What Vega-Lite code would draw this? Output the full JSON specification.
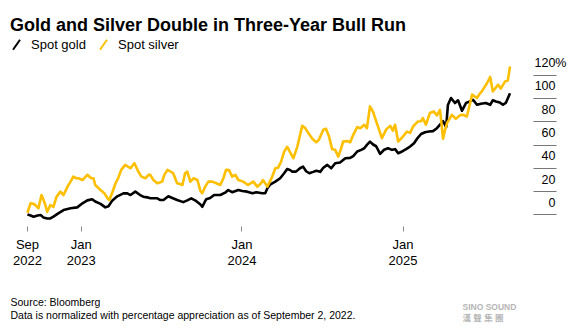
{
  "$schema": "https://vega.github.io/schema/vega-lite/v6.json",
  "width": 483,
  "height": 163,
  "autosize": {"type": "none"},
  "padding": {"left": 27, "top": 63, "right": 71, "bottom": 108},
  "background": "white",
  "config": {"view": {"stroke": null}, "font": "Liberation Sans"},
  "title": {
    "text": "Gold and Silver Double in Three-Year Bull Run",
    "anchor": "start",
    "frame": "group",
    "dx": -17,
    "dy": 21.5,
    "offset": 11,
    "fontSize": 18,
    "fontWeight": "bold",
    "font": "Liberation Sans",
    "color": "#000000",
    "baseline": "alphabetic"
  },
  "datasets": {
    "prices": [
      {"date": "2022-09-02", "series": "Spot gold", "pct": 0},
      {"date": "2022-09-09", "series": "Spot gold", "pct": -1},
      {"date": "2022-09-16", "series": "Spot gold", "pct": -2},
      {"date": "2022-09-25", "series": "Spot gold", "pct": -1},
      {"date": "2022-10-02", "series": "Spot gold", "pct": -0.6},
      {"date": "2022-10-08", "series": "Spot gold", "pct": -2.6},
      {"date": "2022-10-17", "series": "Spot gold", "pct": -3.5},
      {"date": "2022-10-24", "series": "Spot gold", "pct": -3.5},
      {"date": "2022-10-31", "series": "Spot gold", "pct": -2},
      {"date": "2022-11-11", "series": "Spot gold", "pct": 0.9},
      {"date": "2022-11-23", "series": "Spot gold", "pct": 3.7},
      {"date": "2022-12-09", "series": "Spot gold", "pct": 5.2},
      {"date": "2022-12-24", "series": "Spot gold", "pct": 6},
      {"date": "2023-01-05", "series": "Spot gold", "pct": 9.5},
      {"date": "2023-01-16", "series": "Spot gold", "pct": 12},
      {"date": "2023-01-27", "series": "Spot gold", "pct": 13},
      {"date": "2023-02-03", "series": "Spot gold", "pct": 11},
      {"date": "2023-02-15", "series": "Spot gold", "pct": 9},
      {"date": "2023-02-26", "series": "Spot gold", "pct": 6},
      {"date": "2023-03-05", "series": "Spot gold", "pct": 7},
      {"date": "2023-03-14", "series": "Spot gold", "pct": 12},
      {"date": "2023-03-25", "series": "Spot gold", "pct": 15.5},
      {"date": "2023-04-08", "series": "Spot gold", "pct": 18},
      {"date": "2023-04-17", "series": "Spot gold", "pct": 18},
      {"date": "2023-04-24", "series": "Spot gold", "pct": 16.6},
      {"date": "2023-05-05", "series": "Spot gold", "pct": 19.5},
      {"date": "2023-05-16", "series": "Spot gold", "pct": 16.6},
      {"date": "2023-05-23", "series": "Spot gold", "pct": 15.2},
      {"date": "2023-06-01", "series": "Spot gold", "pct": 14.6},
      {"date": "2023-06-08", "series": "Spot gold", "pct": 13.8},
      {"date": "2023-06-24", "series": "Spot gold", "pct": 13.8},
      {"date": "2023-07-01", "series": "Spot gold", "pct": 12.3},
      {"date": "2023-07-08", "series": "Spot gold", "pct": 12.3},
      {"date": "2023-07-19", "series": "Spot gold", "pct": 15.5},
      {"date": "2023-07-28", "series": "Spot gold", "pct": 14},
      {"date": "2023-08-08", "series": "Spot gold", "pct": 12.3},
      {"date": "2023-08-22", "series": "Spot gold", "pct": 10.5},
      {"date": "2023-08-31", "series": "Spot gold", "pct": 12},
      {"date": "2023-09-09", "series": "Spot gold", "pct": 13.8},
      {"date": "2023-09-20", "series": "Spot gold", "pct": 11.5},
      {"date": "2023-09-30", "series": "Spot gold", "pct": 8.5},
      {"date": "2023-10-04", "series": "Spot gold", "pct": 6.5},
      {"date": "2023-10-13", "series": "Spot gold", "pct": 13},
      {"date": "2023-10-22", "series": "Spot gold", "pct": 14},
      {"date": "2023-10-31", "series": "Spot gold", "pct": 16.6},
      {"date": "2023-11-14", "series": "Spot gold", "pct": 16.6},
      {"date": "2023-11-25", "series": "Spot gold", "pct": 18.6},
      {"date": "2023-12-02", "series": "Spot gold", "pct": 20.9},
      {"date": "2023-12-11", "series": "Spot gold", "pct": 19},
      {"date": "2023-12-25", "series": "Spot gold", "pct": 20.9},
      {"date": "2024-01-03", "series": "Spot gold", "pct": 20},
      {"date": "2024-01-14", "series": "Spot gold", "pct": 19.5},
      {"date": "2024-01-26", "series": "Spot gold", "pct": 18.1},
      {"date": "2024-02-04", "series": "Spot gold", "pct": 19},
      {"date": "2024-02-17", "series": "Spot gold", "pct": 18.1},
      {"date": "2024-02-24", "series": "Spot gold", "pct": 18.1},
      {"date": "2024-02-29", "series": "Spot gold", "pct": 22.4},
      {"date": "2024-03-06", "series": "Spot gold", "pct": 25.5},
      {"date": "2024-03-18", "series": "Spot gold", "pct": 28.1},
      {"date": "2024-03-29", "series": "Spot gold", "pct": 31},
      {"date": "2024-04-07", "series": "Spot gold", "pct": 35.3},
      {"date": "2024-04-14", "series": "Spot gold", "pct": 39},
      {"date": "2024-04-21", "series": "Spot gold", "pct": 38},
      {"date": "2024-04-25", "series": "Spot gold", "pct": 36.7},
      {"date": "2024-05-04", "series": "Spot gold", "pct": 36.7},
      {"date": "2024-05-13", "series": "Spot gold", "pct": 39.6},
      {"date": "2024-05-20", "series": "Spot gold", "pct": 41},
      {"date": "2024-05-27", "series": "Spot gold", "pct": 37},
      {"date": "2024-06-03", "series": "Spot gold", "pct": 35.3},
      {"date": "2024-06-12", "series": "Spot gold", "pct": 36.5},
      {"date": "2024-06-19", "series": "Spot gold", "pct": 37.5},
      {"date": "2024-06-28", "series": "Spot gold", "pct": 36.5},
      {"date": "2024-07-05", "series": "Spot gold", "pct": 40},
      {"date": "2024-07-14", "series": "Spot gold", "pct": 42.5},
      {"date": "2024-07-23", "series": "Spot gold", "pct": 39.6},
      {"date": "2024-08-01", "series": "Spot gold", "pct": 43.9},
      {"date": "2024-08-12", "series": "Spot gold", "pct": 44.5},
      {"date": "2024-08-24", "series": "Spot gold", "pct": 48.2},
      {"date": "2024-09-04", "series": "Spot gold", "pct": 48.5},
      {"date": "2024-09-11", "series": "Spot gold", "pct": 50},
      {"date": "2024-09-20", "series": "Spot gold", "pct": 54},
      {"date": "2024-09-29", "series": "Spot gold", "pct": 55.4},
      {"date": "2024-10-06", "series": "Spot gold", "pct": 56.8},
      {"date": "2024-10-12", "series": "Spot gold", "pct": 59.7},
      {"date": "2024-10-19", "series": "Spot gold", "pct": 62.5},
      {"date": "2024-10-26", "series": "Spot gold", "pct": 60},
      {"date": "2024-11-02", "series": "Spot gold", "pct": 58.5},
      {"date": "2024-11-11", "series": "Spot gold", "pct": 52},
      {"date": "2024-11-20", "series": "Spot gold", "pct": 55.5},
      {"date": "2024-11-29", "series": "Spot gold", "pct": 56.8},
      {"date": "2024-12-08", "series": "Spot gold", "pct": 55.4},
      {"date": "2024-12-15", "series": "Spot gold", "pct": 56},
      {"date": "2024-12-22", "series": "Spot gold", "pct": 52.5},
      {"date": "2024-12-31", "series": "Spot gold", "pct": 54},
      {"date": "2025-01-09", "series": "Spot gold", "pct": 56},
      {"date": "2025-01-18", "series": "Spot gold", "pct": 58.2},
      {"date": "2025-01-27", "series": "Spot gold", "pct": 61},
      {"date": "2025-02-03", "series": "Spot gold", "pct": 65},
      {"date": "2025-02-12", "series": "Spot gold", "pct": 69},
      {"date": "2025-02-21", "series": "Spot gold", "pct": 70.5},
      {"date": "2025-03-02", "series": "Spot gold", "pct": 71.1},
      {"date": "2025-03-11", "series": "Spot gold", "pct": 71.5},
      {"date": "2025-03-20", "series": "Spot gold", "pct": 74},
      {"date": "2025-03-27", "series": "Spot gold", "pct": 77},
      {"date": "2025-04-03", "series": "Spot gold", "pct": 80},
      {"date": "2025-04-10", "series": "Spot gold", "pct": 75},
      {"date": "2025-04-14", "series": "Spot gold", "pct": 94},
      {"date": "2025-04-21", "series": "Spot gold", "pct": 99.9},
      {"date": "2025-04-30", "series": "Spot gold", "pct": 95.6},
      {"date": "2025-05-07", "series": "Spot gold", "pct": 98},
      {"date": "2025-05-16", "series": "Spot gold", "pct": 89},
      {"date": "2025-05-25", "series": "Spot gold", "pct": 95.6},
      {"date": "2025-06-03", "series": "Spot gold", "pct": 97},
      {"date": "2025-06-10", "series": "Spot gold", "pct": 98.4},
      {"date": "2025-06-19", "series": "Spot gold", "pct": 94.1},
      {"date": "2025-06-28", "series": "Spot gold", "pct": 95},
      {"date": "2025-07-09", "series": "Spot gold", "pct": 95.6},
      {"date": "2025-07-19", "series": "Spot gold", "pct": 94.1},
      {"date": "2025-07-25", "series": "Spot gold", "pct": 98},
      {"date": "2025-08-01", "series": "Spot gold", "pct": 97},
      {"date": "2025-08-10", "series": "Spot gold", "pct": 96},
      {"date": "2025-08-17", "series": "Spot gold", "pct": 94.1},
      {"date": "2025-08-24", "series": "Spot gold", "pct": 96},
      {"date": "2025-09-02", "series": "Spot gold", "pct": 104},
      {"date": "2022-09-02", "series": "Spot silver", "pct": 1.4},
      {"date": "2022-09-09", "series": "Spot silver", "pct": 9.5},
      {"date": "2022-09-16", "series": "Spot silver", "pct": 9},
      {"date": "2022-09-20", "series": "Spot silver", "pct": 8},
      {"date": "2022-09-27", "series": "Spot silver", "pct": 5.2},
      {"date": "2022-10-04", "series": "Spot silver", "pct": 16.6},
      {"date": "2022-10-11", "series": "Spot silver", "pct": 10},
      {"date": "2022-10-17", "series": "Spot silver", "pct": 2.2},
      {"date": "2022-10-24", "series": "Spot silver", "pct": 8},
      {"date": "2022-10-31", "series": "Spot silver", "pct": 6.5},
      {"date": "2022-11-07", "series": "Spot silver", "pct": 15},
      {"date": "2022-11-16", "series": "Spot silver", "pct": 19.5},
      {"date": "2022-11-23", "series": "Spot silver", "pct": 16.6},
      {"date": "2022-12-02", "series": "Spot silver", "pct": 23.8},
      {"date": "2022-12-09", "series": "Spot silver", "pct": 28.1},
      {"date": "2022-12-15", "series": "Spot silver", "pct": 32.4},
      {"date": "2022-12-22", "series": "Spot silver", "pct": 31},
      {"date": "2022-12-27", "series": "Spot silver", "pct": 31},
      {"date": "2023-01-05", "series": "Spot silver", "pct": 29.5},
      {"date": "2023-01-16", "series": "Spot silver", "pct": 34},
      {"date": "2023-01-25", "series": "Spot silver", "pct": 31},
      {"date": "2023-01-30", "series": "Spot silver", "pct": 31},
      {"date": "2023-02-03", "series": "Spot silver", "pct": 25.2},
      {"date": "2023-02-15", "series": "Spot silver", "pct": 20.9},
      {"date": "2023-02-24", "series": "Spot silver", "pct": 18},
      {"date": "2023-03-03", "series": "Spot silver", "pct": 13.8},
      {"date": "2023-03-07", "series": "Spot silver", "pct": 12.3},
      {"date": "2023-03-14", "series": "Spot silver", "pct": 19},
      {"date": "2023-03-21", "series": "Spot silver", "pct": 26.7},
      {"date": "2023-03-27", "series": "Spot silver", "pct": 31},
      {"date": "2023-04-03", "series": "Spot silver", "pct": 38.2},
      {"date": "2023-04-12", "series": "Spot silver", "pct": 42.5},
      {"date": "2023-04-24", "series": "Spot silver", "pct": 39.6},
      {"date": "2023-05-03", "series": "Spot silver", "pct": 43.9},
      {"date": "2023-05-12", "series": "Spot silver", "pct": 36.7},
      {"date": "2023-05-19", "series": "Spot silver", "pct": 32.4},
      {"date": "2023-05-28", "series": "Spot silver", "pct": 31},
      {"date": "2023-06-04", "series": "Spot silver", "pct": 33.9},
      {"date": "2023-06-08", "series": "Spot silver", "pct": 33.9},
      {"date": "2023-06-15", "series": "Spot silver", "pct": 29.5},
      {"date": "2023-06-24", "series": "Spot silver", "pct": 26.7},
      {"date": "2023-07-05", "series": "Spot silver", "pct": 28.1},
      {"date": "2023-07-10", "series": "Spot silver", "pct": 33.9},
      {"date": "2023-07-17", "series": "Spot silver", "pct": 38.2},
      {"date": "2023-07-23", "series": "Spot silver", "pct": 37},
      {"date": "2023-07-30", "series": "Spot silver", "pct": 35.3},
      {"date": "2023-08-08", "series": "Spot silver", "pct": 26.7},
      {"date": "2023-08-15", "series": "Spot silver", "pct": 26},
      {"date": "2023-08-20", "series": "Spot silver", "pct": 25.2},
      {"date": "2023-08-26", "series": "Spot silver", "pct": 35.3},
      {"date": "2023-08-31", "series": "Spot silver", "pct": 36.7},
      {"date": "2023-09-07", "series": "Spot silver", "pct": 28.1},
      {"date": "2023-09-14", "series": "Spot silver", "pct": 31},
      {"date": "2023-09-23", "series": "Spot silver", "pct": 29.5},
      {"date": "2023-09-30", "series": "Spot silver", "pct": 20},
      {"date": "2023-10-04", "series": "Spot silver", "pct": 18.1},
      {"date": "2023-10-11", "series": "Spot silver", "pct": 24},
      {"date": "2023-10-18", "series": "Spot silver", "pct": 28.1},
      {"date": "2023-10-27", "series": "Spot silver", "pct": 28.1},
      {"date": "2023-11-05", "series": "Spot silver", "pct": 26.7},
      {"date": "2023-11-14", "series": "Spot silver", "pct": 25.2},
      {"date": "2023-11-21", "series": "Spot silver", "pct": 31},
      {"date": "2023-11-27", "series": "Spot silver", "pct": 38.2},
      {"date": "2023-12-04", "series": "Spot silver", "pct": 38},
      {"date": "2023-12-11", "series": "Spot silver", "pct": 32.4},
      {"date": "2023-12-18", "series": "Spot silver", "pct": 34},
      {"date": "2023-12-25", "series": "Spot silver", "pct": 29.5},
      {"date": "2024-01-05", "series": "Spot silver", "pct": 28.1},
      {"date": "2024-01-16", "series": "Spot silver", "pct": 25.2},
      {"date": "2024-01-28", "series": "Spot silver", "pct": 28.1},
      {"date": "2024-02-06", "series": "Spot silver", "pct": 23.8},
      {"date": "2024-02-13", "series": "Spot silver", "pct": 26},
      {"date": "2024-02-19", "series": "Spot silver", "pct": 29.5},
      {"date": "2024-02-29", "series": "Spot silver", "pct": 23.8},
      {"date": "2024-03-11", "series": "Spot silver", "pct": 32.4},
      {"date": "2024-03-18", "series": "Spot silver", "pct": 39.6},
      {"date": "2024-03-24", "series": "Spot silver", "pct": 40},
      {"date": "2024-03-31", "series": "Spot silver", "pct": 45},
      {"date": "2024-04-07", "series": "Spot silver", "pct": 53.9},
      {"date": "2024-04-14", "series": "Spot silver", "pct": 58},
      {"date": "2024-04-21", "series": "Spot silver", "pct": 53},
      {"date": "2024-04-28", "series": "Spot silver", "pct": 48.2},
      {"date": "2024-05-07", "series": "Spot silver", "pct": 58.2},
      {"date": "2024-05-13", "series": "Spot silver", "pct": 68},
      {"date": "2024-05-18", "series": "Spot silver", "pct": 76},
      {"date": "2024-05-25", "series": "Spot silver", "pct": 74.1},
      {"date": "2024-06-01", "series": "Spot silver", "pct": 69.8},
      {"date": "2024-06-10", "series": "Spot silver", "pct": 65},
      {"date": "2024-06-19", "series": "Spot silver", "pct": 62},
      {"date": "2024-06-25", "series": "Spot silver", "pct": 64},
      {"date": "2024-07-05", "series": "Spot silver", "pct": 72.6},
      {"date": "2024-07-11", "series": "Spot silver", "pct": 73.5},
      {"date": "2024-07-18", "series": "Spot silver", "pct": 66.8},
      {"date": "2024-07-25", "series": "Spot silver", "pct": 56},
      {"date": "2024-08-01", "series": "Spot silver", "pct": 55.4},
      {"date": "2024-08-08", "series": "Spot silver", "pct": 49.6},
      {"date": "2024-08-14", "series": "Spot silver", "pct": 56},
      {"date": "2024-08-19", "series": "Spot silver", "pct": 62.5},
      {"date": "2024-08-28", "series": "Spot silver", "pct": 63},
      {"date": "2024-09-04", "series": "Spot silver", "pct": 62},
      {"date": "2024-09-11", "series": "Spot silver", "pct": 68.3},
      {"date": "2024-09-20", "series": "Spot silver", "pct": 75},
      {"date": "2024-09-27", "series": "Spot silver", "pct": 74},
      {"date": "2024-10-06", "series": "Spot silver", "pct": 76.9},
      {"date": "2024-10-12", "series": "Spot silver", "pct": 74},
      {"date": "2024-10-19", "series": "Spot silver", "pct": 92.7},
      {"date": "2024-10-26", "series": "Spot silver", "pct": 88},
      {"date": "2024-11-02", "series": "Spot silver", "pct": 80},
      {"date": "2024-11-11", "series": "Spot silver", "pct": 70},
      {"date": "2024-11-15", "series": "Spot silver", "pct": 65.5},
      {"date": "2024-11-25", "series": "Spot silver", "pct": 73},
      {"date": "2024-12-04", "series": "Spot silver", "pct": 76},
      {"date": "2024-12-10", "series": "Spot silver", "pct": 72},
      {"date": "2024-12-15", "series": "Spot silver", "pct": 76.9},
      {"date": "2024-12-22", "series": "Spot silver", "pct": 62.5},
      {"date": "2024-12-31", "series": "Spot silver", "pct": 66},
      {"date": "2025-01-11", "series": "Spot silver", "pct": 71.1},
      {"date": "2025-01-18", "series": "Spot silver", "pct": 70},
      {"date": "2025-01-25", "series": "Spot silver", "pct": 75.5},
      {"date": "2025-02-05", "series": "Spot silver", "pct": 79.8},
      {"date": "2025-02-12", "series": "Spot silver", "pct": 80},
      {"date": "2025-02-16", "series": "Spot silver", "pct": 82.7},
      {"date": "2025-02-23", "series": "Spot silver", "pct": 77},
      {"date": "2025-03-04", "series": "Spot silver", "pct": 87},
      {"date": "2025-03-13", "series": "Spot silver", "pct": 88.4},
      {"date": "2025-03-20", "series": "Spot silver", "pct": 85},
      {"date": "2025-03-27", "series": "Spot silver", "pct": 89.8},
      {"date": "2025-04-03", "series": "Spot silver", "pct": 65},
      {"date": "2025-04-07", "series": "Spot silver", "pct": 72},
      {"date": "2025-04-12", "series": "Spot silver", "pct": 78.4},
      {"date": "2025-04-23", "series": "Spot silver", "pct": 85.5},
      {"date": "2025-05-02", "series": "Spot silver", "pct": 82},
      {"date": "2025-05-11", "series": "Spot silver", "pct": 85},
      {"date": "2025-05-18", "series": "Spot silver", "pct": 85.5},
      {"date": "2025-05-27", "series": "Spot silver", "pct": 84},
      {"date": "2025-06-03", "series": "Spot silver", "pct": 95},
      {"date": "2025-06-08", "series": "Spot silver", "pct": 102.8},
      {"date": "2025-06-19", "series": "Spot silver", "pct": 99.9},
      {"date": "2025-06-26", "series": "Spot silver", "pct": 104},
      {"date": "2025-06-30", "series": "Spot silver", "pct": 105.6},
      {"date": "2025-07-12", "series": "Spot silver", "pct": 112.8},
      {"date": "2025-07-19", "series": "Spot silver", "pct": 118},
      {"date": "2025-07-25", "series": "Spot silver", "pct": 105.6},
      {"date": "2025-08-01", "series": "Spot silver", "pct": 109},
      {"date": "2025-08-06", "series": "Spot silver", "pct": 111.4},
      {"date": "2025-08-12", "series": "Spot silver", "pct": 108},
      {"date": "2025-08-22", "series": "Spot silver", "pct": 114.2},
      {"date": "2025-08-28", "series": "Spot silver", "pct": 115},
      {"date": "2025-09-02", "series": "Spot silver", "pct": 127}
    ]
  },
  "data": {"name": "prices"},
  "mark": {"type": "line", "strokeWidth": 2.6, "strokeJoin": "round", "clip": false},
  "encoding": {
    "x": {
      "field": "date",
      "type": "temporal",
      "scale": {
        "type": "utc",
        "domain": [
          {"year": 2022, "month": 9, "date": 1, "utc": true},
          {"year": 2025, "month": 9, "date": 2, "utc": true}
        ]
      },
      "axis": {
        "values": [
          {"year": 2022, "month": 9, "date": 1, "utc": true},
          {"year": 2023, "month": 1, "date": 1, "utc": true},
          {"year": 2024, "month": 1, "date": 1, "utc": true},
          {"year": 2025, "month": 1, "date": 1, "utc": true}
        ],
        "labelExpr": "[utcFormat(datum.value, '%b'), utcFormat(datum.value, '%Y')]",
        "domain": false,
        "grid": false,
        "tickSize": 5,
        "tickColor": "#888888",
        "tickWidth": 1,
        "labelFont": "Liberation Sans",
        "labelFontSize": 13,
        "labelColor": "#000000",
        "labelPadding": 7,
        "labelLineHeight": 16,
        "labelBaseline": "top",
        "labelFlush": false,
        "labelOverlap": false,
        "title": ["Source: Bloomberg", "Data is normalized with percentage appreciation as of September 2, 2022."],
        "titleX": -17,
        "titleY": 71.4,
        "titleAlign": "left",
        "titleAnchor": "start",
        "titleBaseline": "top",
        "titleFont": "Liberation Sans",
        "titleFontSize": 10.5,
        "titleFontWeight": "normal",
        "titleColor": "#000000",
        "titleLineHeight": 13
      }
    },
    "y": {
      "field": "pct",
      "type": "quantitative",
      "scale": {"domain": [-10, 130], "nice": false, "zero": false},
      "axis": {
        "orient": "right",
        "offset": 23,
        "values": [0, 20, 40, 60, 80, 100, 120],
        "domain": false,
        "grid": false,
        "ticks": true,
        "tickSize": 23,
        "tickColor": "#777777",
        "tickWidth": 1,
        "labelFont": "Liberation Sans",
        "labelFontSize": 12.5,
        "labelColor": "#000000",
        "labelExpr": "datum.value == 120 ? '120%' : datum.label",
        "labelAlign": {"condition": {"test": "datum.value == 120", "value": "left"}, "value": "right"},
        "labelPadding": {"condition": {"test": "datum.value == 120", "value": -22}, "value": -1},
        "labelBaseline": "alphabetic",
        "labelOffset": -8,
        "labelOverlap": false,
        "labelBound": false,
        "labelFlush": false,
        "title": ["SINO SOUND", "漢  聲  集  團"],
        "titleAngle": 0,
        "titleX": -71,
        "titleY": 239.4,
        "titleAlign": "left",
        "titleBaseline": "top",
        "titleFont": "Liberation Sans, Noto Sans CJK TC",
        "titleFontSize": 8.5,
        "titleFontWeight": "bold",
        "titleColor": "#b5b5b5",
        "titleLineHeight": 11
      }
    },
    "color": {
      "field": "series",
      "type": "nominal",
      "scale": {"domain": ["Spot gold", "Spot silver"], "range": ["#000000", "#fdbf00"]},
      "legend": {
        "orient": "none",
        "legendX": -17,
        "legendY": -25,
        "direction": "horizontal",
        "title": null,
        "padding": 0,
        "labelFont": "Liberation Sans",
        "labelFontSize": 13,
        "labelColor": "#000000",
        "labelOffset": 8,
        "columnPadding": 10,
        "symbolType": "M-0.7,1L0.7,-1",
        "symbolSize": 100,
        "symbolStrokeWidth": 2,
        "symbolFillColor": "transparent"
      }
    }
  }
}
